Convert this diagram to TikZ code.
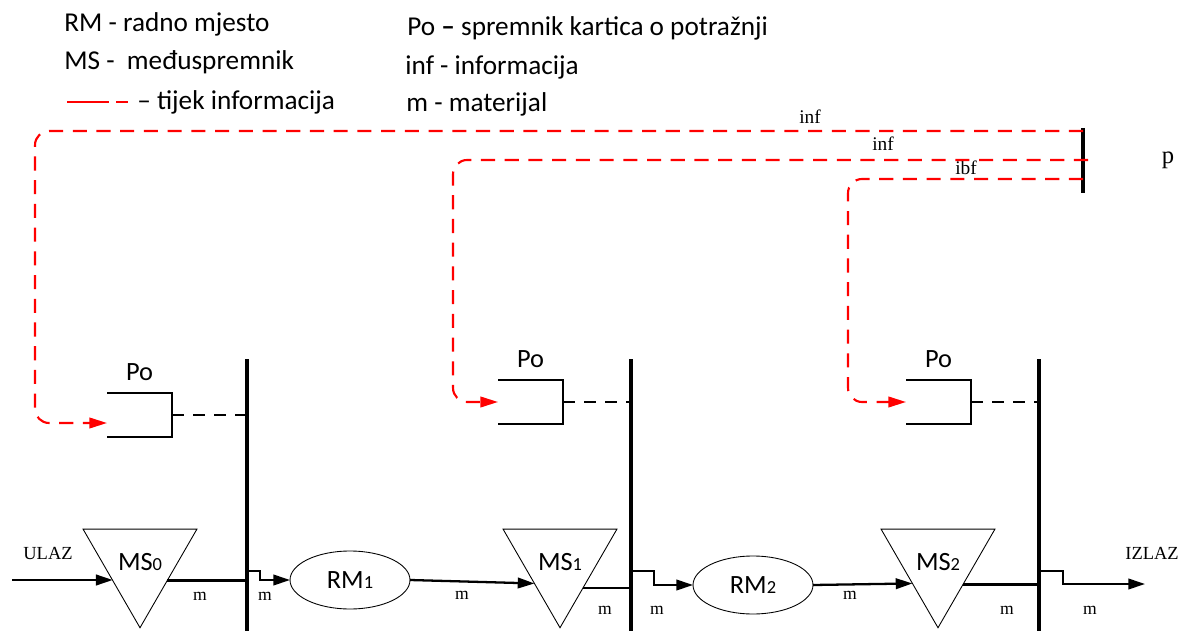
\documentclass[tikz,border=0pt]{standalone}
\usepackage{fontspec}
\setmainfont{Liberation Serif}
\newfontfamily\calibri{Carlito}
\usetikzlibrary{arrows.meta,shapes.geometric,positioning,calc}

\tikzset{
  bar/.style={line width=1.8pt},
  mat/.style={line width=1.3pt},
  matarrow/.style={mat,-{Triangle[length=9.5pt,width=6pt]}},
  info/.style={red,line width=1.2pt,dash pattern=on 8pt off 5.5pt,rounded corners=8pt},
  infoarrow/.style={info,-{Triangle[length=10pt,width=6pt]}},
  link/.style={line width=1pt,dash pattern=on 7pt off 5pt},
  buffer/.style={draw,regular polygon,regular polygon sides=3,shape border rotate=180,
    minimum size=2.63cm,inner sep=0pt,outer sep=0pt,line width=0.5pt,
    font=\calibri\fontsize{15}{15}\selectfont},
  station/.style={draw,ellipse,minimum width=2.4cm,minimum height=1.16cm,
    inner sep=0pt,outer sep=0pt,line width=0.5pt,font=\calibri\fontsize{15}{15}\selectfont},
  cards/.style={minimum width=1.3cm,minimum height=0.88cm,inner sep=0pt,outer sep=0pt},
  cardlbl/.style={font=\calibri\fontsize{15}{15}\selectfont,inner sep=0pt},
  legend/.style={anchor=base west,inner sep=0pt,font=\calibri\fontsize{15.5}{18}\selectfont},
  lbl/.style={font=\fontsize{10}{12}\selectfont,inner sep=0pt},
}
\newcommand{\idx}[1]{{\fontsize{10.5}{10}\selectfont #1}}

\begin{document}
\begin{tikzpicture}[x=0.02cm,y=-0.02cm]
  \useasboundingbox (0,0) rectangle (1179,631);

  % legend
  \node[legend] (lgrm) at (64,32) {RM - radno mjesto};
  \node[legend] (lgms) at (64,70) {MS -\ \ međuspremnik};
  \draw[red,line width=0.8pt,dash pattern=on 24pt off 4pt on 7pt off 60pt]
    (67,102) coordinate (lgline) -- (130,102);
  \node[legend] (lginfo) at (137,110) {– tijek informacija};
  \node[legend] (lgpo) at (407,36) {Po \textbf{–} spremnik kartica o potražnji};
  \node[legend] (lginf) at (405,75) {inf - informacija};
  \node[legend] (lgm) at (406,112) {m - materijal};

  % demand signal
  \draw[bar] (1083,128) coordinate (ptop) -- (1083,193) coordinate (pbot);
  \node[font=\fontsize{14}{14}\selectfont,inner sep=0pt] (p) at (1168,160) {p};
  \coordinate (inf1) at (1083,131);
  \coordinate (inf2) at (1088,160);
  \coordinate (inf3) at (1083,179);
  \node[lbl,font=\fontsize{11}{12}\selectfont] (inflbl1) at (810,117) {inf};
  \node[lbl,font=\fontsize{11}{12}\selectfont] (inflbl2) at (883,144) {inf};
  \node[lbl,font=\fontsize{11}{12}\selectfont] (inflbl3) at (966,168) {ibf};

  % vertical bars
  \draw[bar] (247,359) coordinate (bar1) -- (247,631);
  \draw[bar] (631,359) coordinate (bar2) -- (631,631);
  \draw[bar] (1039,359) coordinate (bar3) -- (1039,631);

  % Po boxes
  \node[cards] (po1) at (139.5,415) {};
  \node[cards] (po2) at (530.5,402) {};
  \node[cards] (po3) at (938.5,402) {};
  \foreach \b/\r in {po1/bar1,po2/bar2,po3/bar3}{
    \draw[line width=0.9pt] (\b.north west) -- (\b.north east) -- (\b.south east) -- (\b.south west);
    \draw[link] (\b.east) -- (\r |- \b.east);
  }
  \node[cardlbl,above=7pt of po1] (polbl1) {Po};
  \node[cardlbl,above=7pt of po2] (polbl2) {Po};
  \node[cardlbl,above=7pt of po3] (polbl3) {Po};

  % information flow
  \coordinate (po1in) at ($(po1.west)+(0,8)$);
  \draw[infoarrow] (inf1) -| ($(po1in)+(-72,0)$) -- (po1in);
  \draw[infoarrow] (inf2) -| ($(po2.west)+(-45,0)$) -- (po2.west);
  \draw[infoarrow] (inf3) -| ($(po3.west)+(-58,0)$) -- (po3.west);

  % material flow
  \node[buffer] (ms0) at (140,562) {MS\idx{0}};
  \node[station] (rm1) at (350,580) {RM\idx{1}};
  \node[buffer] (ms1) at (560,562) {MS\idx{1}};
  \node[station] (rm2) at (753,585) {RM\idx{2}};
  \node[buffer] (ms2) at (938,562) {MS\idx{2}};

  \coordinate (ulaz) at (12,580);
  \node[lbl,font=\fontsize{10.5}{12}\selectfont] (ulazlbl) at (48,553) {ULAZ};
  \draw[matarrow] (ulaz) -- (ulaz -| ms0.214);
  \draw[mat] (ms0.326) -- (bar1 |- ms0.326);
  \coordinate (st1) at (247,571);
  \draw[matarrow] (st1) -- ++(13,0) |- (rm1.west);
  \draw[matarrow] (rm1.east) -- (ms1.220);
  \draw[mat] (ms1.312) -- (bar2 |- ms1.312);
  \coordinate (st2) at (631,571);
  \draw[matarrow] (st2) -- ++(23,0) |- (rm2.west);
  \draw[matarrow] (rm2.east) -- (ms2.220);
  \draw[mat] (ms2.318) -- (bar3 |- ms2.318);
  \coordinate (st3) at (1039,571);
  \coordinate (izlaz) at (1145,584);
  \draw[matarrow] (st3) -- ++(24,0) |- (izlaz);
  \node[lbl,font=\fontsize{10.5}{12}\selectfont] (izlazlbl) at (1152,553) {IZLAZ};

  % m labels
  \node[lbl] (m1) at (200,596) {m};
  \node[lbl] (m2) at (265,596) {m};
  \node[lbl] (m3) at (462,595) {m};
  \node[lbl] (m4) at (605,610) {m};
  \node[lbl] (m5) at (657,610) {m};
  \node[lbl] (m6) at (850,595) {m};
  \node[lbl] (m7) at (1007,610) {m};
  \node[lbl] (m8) at (1090,610) {m};
\end{tikzpicture}
\end{document}
